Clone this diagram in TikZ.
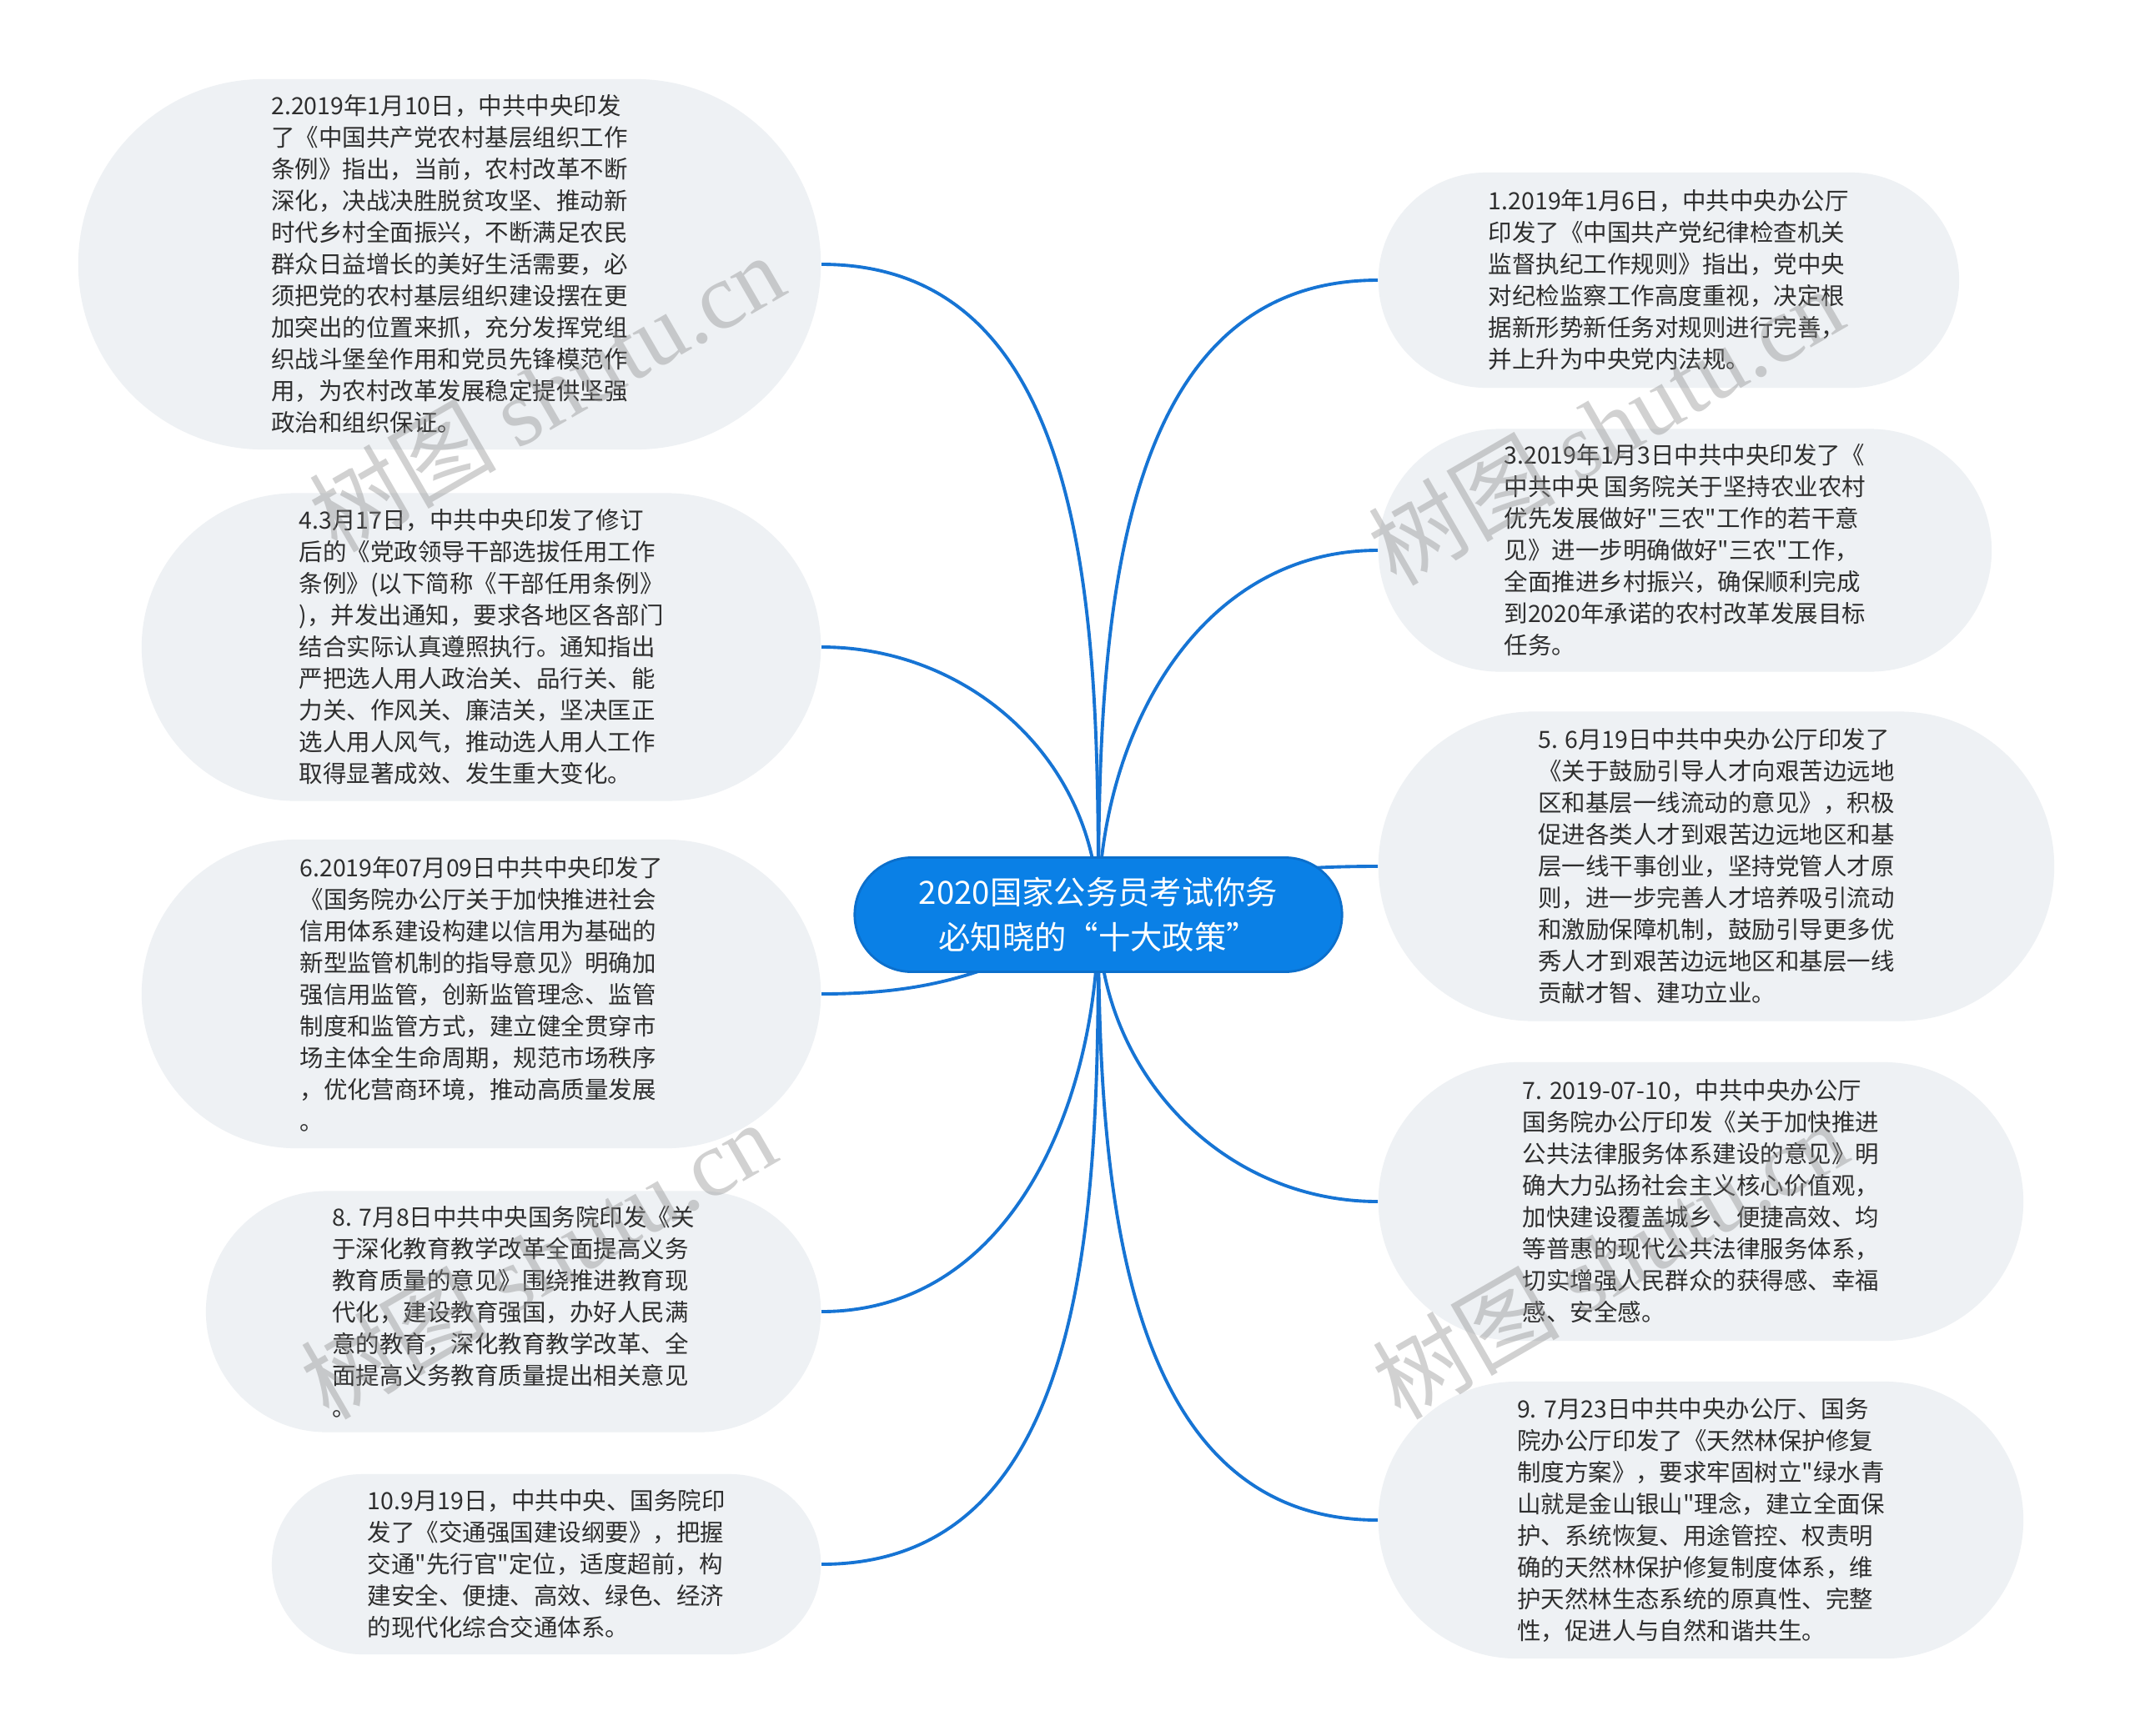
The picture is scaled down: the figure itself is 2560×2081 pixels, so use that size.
\documentclass[tikz,border=0pt]{standalone}
\usepackage{fontspec}
\setmainfont{Noto Sans CJK SC}[Ligatures=TeXOff]
\newfontfamily\stampserif{Liberation Serif}
\usetikzlibrary{backgrounds}
\definecolor{leafgray}{HTML}{EEF1F4}
\definecolor{linkblue}{HTML}{1674D4}
\definecolor{rootblue}{HTML}{0A80E6}
\definecolor{rootedge}{HTML}{0B6FCC}
\definecolor{txtgray}{HTML}{2E2E2E}
\begin{document}
\begin{tikzpicture}[x=0.01cm, y=0.01cm,
  leaf/.style 2 args={rectangle, fill=leafgray, text=txtgray, align=left,
    minimum width=#1, minimum height=2*#2, rounded corners=#2,
    inner sep=0.05cm, font=\fontsize{8.1pt}{10.8pt}\selectfont},
  root/.style={rectangle, fill=rootblue, draw=rootedge, line width=0.8pt,
    minimum width=5.84cm, minimum height=1.37cm, rounded corners=0.685cm,
    text=white, align=center, inner sep=0.05cm,
    font=\fontsize{10.9pt}{15.2pt}\selectfont},
  link/.style={draw=linkblue, line width=1.1pt},
  stamp/.style={rotate=30, text=black!45, text opacity=0.4, font=\fontsize{32pt}{32pt}\selectfont}]
\useasboundingbox (0,0) rectangle (2560,-2081);
\node[root] (c) at (1317,-1097) {2020国家公务员考试你务\\必知晓的“十大政策”};
% left side
\node[leaf={8.90cm}{2.22cm}, anchor=east] (n2) at (985,-317) {2.2019年1月10日，中共中央印发\\了《中国共产党农村基层组织工作\\条例》指出，当前，农村改革不断\\深化，决战决胜脱贫攻坚、推动新\\时代乡村全面振兴，不断满足农民\\群众日益增长的美好生活需要，必\\须把党的农村基层组织建设摆在更\\加突出的位置来抓，充分发挥党组\\织战斗堡垒作用和党员先锋模范作\\用，为农村改革发展稳定提供坚强\\政治和组织保证。};
\node[leaf={8.14cm}{1.845cm}, anchor=east] (n4) at (985,-776) {4.3月17日，中共中央印发了修订\\后的《党政领导干部选拔任用工作\\条例》(以下简称《干部任用条例》\\)，并发出通知，要求各地区各部门\\结合实际认真遵照执行。通知指出\\严把选人用人政治关、品行关、能\\力关、作风关、廉洁关，坚决匡正\\选人用人风气，推动选人用人工作\\取得显著成效、发生重大变化。};
\node[leaf={8.14cm}{1.85cm}, anchor=east] (n6) at (985,-1192) {6.2019年07月09日中共中央印发了\\《国务院办公厅关于加快推进社会\\信用体系建设构建以信用为基础的\\新型监管机制的指导意见》明确加\\强信用监管，创新监管理念、监管\\制度和监管方式，建立健全贯穿市\\场主体全生命周期，规范市场秩序\\，优化营商环境，推动高质量发展\\。};
\node[leaf={7.37cm}{1.445cm}, anchor=east] (n8) at (985,-1573) {8. 7月8日中共中央国务院印发《关\\于深化教育教学改革全面提高义务\\教育质量的意见》围绕推进教育现\\代化，建设教育强国，办好人民满\\意的教育，深化教育教学改革、全\\面提高义务教育质量提出相关意见\\。};
\node[leaf={6.58cm}{1.08cm}, anchor=east] (n10) at (985,-1876) {10.9月19日，中共中央、国务院印\\发了《交通强国建设纲要》，把握\\交通"先行官"定位，适度超前，构\\建安全、便捷、高效、绿色、经济\\的现代化综合交通体系。};
% right side
\node[leaf={6.96cm}{1.29cm}, anchor=west] (n1) at (1652,-336) {1.2019年1月6日，中共中央办公厅\\印发了《中国共产党纪律检查机关\\监督执纪工作规则》指出，党中央\\对纪检监察工作高度重视，决定根\\据新形势新任务对规则进行完善，\\并上升为中央党内法规。};
\node[leaf={7.35cm}{1.455cm}, anchor=west] (n3) at (1652,-660) {3.2019年1月3日中共中央印发了《\\中共中央 国务院关于坚持农业农村\\优先发展做好"三农"工作的若干意\\见》进一步明确做好"三农"工作，\\全面推进乡村振兴，确保顺利完成\\到2020年承诺的农村改革发展目标\\任务。};
\node[leaf={8.10cm}{1.855cm}, anchor=west] (n5) at (1652,-1039) {5. 6月19日中共中央办公厅印发了\\《关于鼓励引导人才向艰苦边远地\\区和基层一线流动的意见》，积极\\促进各类人才到艰苦边远地区和基\\层一线干事创业，坚持党管人才原\\则，进一步完善人才培养吸引流动\\和激励保障机制，鼓励引导更多优\\秀人才到艰苦边远地区和基层一线\\贡献才智、建功立业。};
\node[leaf={7.73cm}{1.67cm}, anchor=west] (n7) at (1652,-1441) {7. 2019-07-10，中共中央办公厅\\国务院办公厅印发《关于加快推进\\公共法律服务体系建设的意见》明\\确大力弘扬社会主义核心价值观，\\加快建设覆盖城乡、便捷高效、均\\等普惠的现代公共法律服务体系，\\切实增强人民群众的获得感、幸福\\感、安全感。};
\node[leaf={7.73cm}{1.66cm}, anchor=west] (n9) at (1652,-1823) {9. 7月23日中共中央办公厅、国务\\院办公厅印发了《天然林保护修复\\制度方案》，要求牢固树立"绿水青\\山就是金山银山"理念，建立全面保\\护、系统恢复、用途管控、权责明\\确的天然林保护修复制度体系，维\\护天然林生态系统的原真性、完整\\性，促进人与自然和谐共生。};
\begin{pgfonlayer}{background}
\fill[white] (0,0) rectangle (2560,-2081);
\draw[link] (c.center) to[out=90,in=0] (n2.east);
\draw[link] (c.center) to[out=90,in=0] (n4.east);
\draw[link] (c.center) to[out=210,in=0] (n6.east);
\draw[link] (c.center) to[out=-90,in=0] (n8.east);
\draw[link] (c.center) to[out=-90,in=0] (n10.east);
\draw[link] (c.center) to[out=90,in=180] (n1.west);
\draw[link] (c.center) to[out=90,in=180] (n3.west);
\draw[link] (c.center) to[out=20,in=180] (n5.west);
\draw[link] (c.center) to[out=-90,in=180] (n7.west);
\draw[link] (c.center) to[out=-90,in=180] (n9.west);
\end{pgfonlayer}
% watermarks
\node[stamp] (w1) at (655,-470) {树图 {\stampserif shutu.cn}};
\node[stamp] (w2) at (1925,-510) {树图 {\stampserif shutu.cn}};
\node[stamp] (w3) at (645,-1510) {树图 {\stampserif shutu.cn}};
\node[stamp] (w4) at (1930,-1510) {树图 {\stampserif shutu.cn}};
\end{tikzpicture}
\end{document}
